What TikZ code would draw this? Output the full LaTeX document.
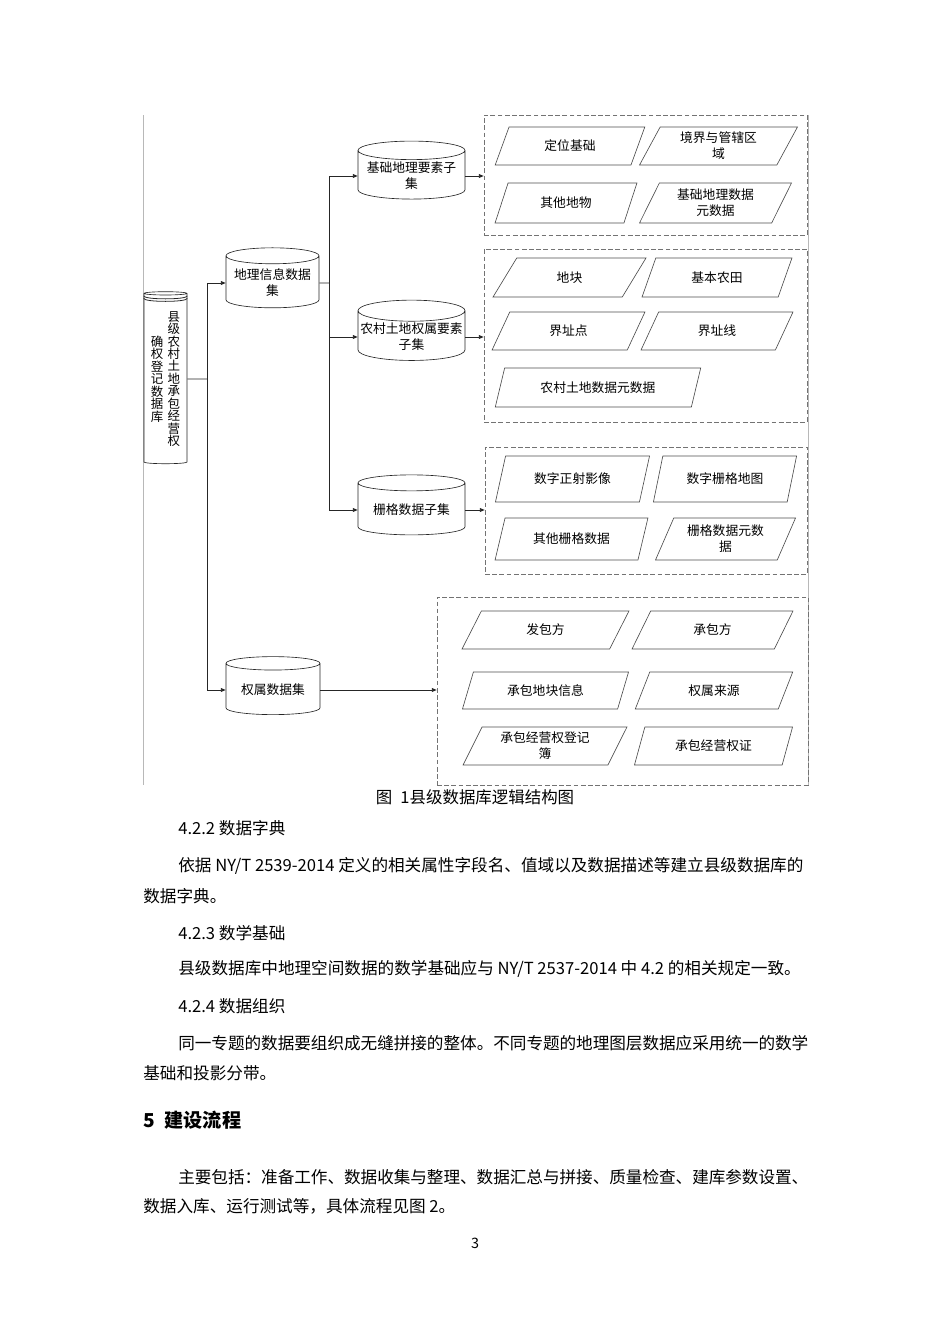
\documentclass[tikz,border=0pt]{standalone}
\usepackage{fontspec}
\setmainfont{Noto Sans CJK SC}
\XeTeXlinebreaklocale "zh"
\XeTeXlinebreakskip=0pt plus 1pt minus 0.2pt
\usetikzlibrary{shapes.geometric,arrows.meta}
\definecolor{framegray}{gray}{0.72}
\definecolor{dashgray}{gray}{0.45}
\definecolor{edgegray}{gray}{0.3}
\newcommand\pxu{0.626pt}
\newcommand\figfont{\fontsize{8}{10}\selectfont}
\newcommand\bodyfont{\fontsize{10.4}{18.8}\selectfont}
% one column of upright text, read from top to bottom
\newcommand\vcol[1]{\parbox{1em}{\centering\fontsize{7.8}{7.8}\selectfont
  \lineskiplimit=-\maxdimen #1}}

\begin{document}
\begin{tikzpicture}[x=0.626pt, y=-0.626pt, >={Triangle[length=3pt,width=2.4pt]},
 dataset/.style 2 args={cylinder, shape border rotate=90, aspect=0.2, draw=black!85,
   minimum width=#1*\pxu, minimum height=#2*\pxu, inner sep=1pt, align=center, font=\figfont},
 pgram/.style 2 args={trapezium, trapezium left angle=64, trapezium right angle=116,
   trapezium stretches=true, draw=edgegray, minimum width=#1*\pxu, minimum height=#2*\pxu,
   inner sep=0pt, align=center, font=\figfont},
 setbox/.style 2 args={draw=dashgray, dash pattern=on 3pt off 1.5pt,
   minimum width=#1*\pxu, minimum height=#2*\pxu, inner sep=0pt},
 link/.style={draw=black!85, line width=0.5pt},
 arrow/.style={link, ->},
 body/.style={anchor=west, inner sep=0pt, font=\bodyfont},
 justline/.style={body, text width=394.4pt, align=justify}]
\useasboundingbox (0,0) rectangle (950,1344);

% frame of the figure
\draw[framegray] (143,115) -- (143,785);
\draw[framegray] (808,115) -- (808,785);

% data sets
\node[dataset={43}{172}, aspect=0.1] (root) at (165.5,379)
 {\vcol{确\\权\\登\\记\\数\\据\\库}\hspace{2.6pt}\vcol{县\\级\\农\\村\\土\\地\\承\\包\\经\\营\\权}};
\foreach \d in {2.5,5}
 \draw[link] ([yshift=-\d*\pxu]root.before top) .. controls +(0,4) and +(0,4) .. ([yshift=-\d*\pxu]root.after top);
\node[dataset={93}{60}] (geo) at (272.5,283) {地理信息数据\\集};
\node[dataset={94}{58}] (right) at (273,690) {权属数据集};
\node[dataset={107}{58}] (basic) at (411.5,176) {基础地理要素子\\集};
\node[dataset={107}{60}] (rural) at (411.5,337) {农村土地权属要素\\子集};
\node[dataset={107}{60}] (raster) at (411.5,510) {栅格数据子集};

% groups of layers
\node[setbox={323}{120}] (box1) at (645.5,175) {};
\node[setbox={323}{173}] (box2) at (645.5,335.5) {};
\node[setbox={322}{127}] (box3) at (646,510.5) {};
\node[setbox={371}{188}] (box4) at (622.5,691) {};

\node[pgram={150}{38}] (pos) at (570,146) {定位基础};
\node[pgram={159}{38}] (bound) at (718.5,146) {境界与管辖区\\域};
\node[pgram={142}{40}] (other) at (566,203) {其他地物};
\node[pgram={153}{40}] (bmeta) at (715.5,203) {基础地理数据\\元数据};

\node[pgram={153}{39}] (parcel) at (569.5,277.5) {地块};
\node[pgram={150}{39}] (farm) at (717,277.5) {基本农田};
\node[pgram={153}{38}] (bpoint) at (568.5,331) {界址点};
\node[pgram={152}{38}] (bline) at (717,331) {界址线};
\node[pgram={206}{39}] (rmeta) at (598,387.5) {农村土地数据元数据};

\node[pgram={155}{46}] (dom) at (572.5,479) {数字正射影像};
\node[pgram={144}{46}] (drg) at (725,479) {数字栅格地图};
\node[pgram={153}{42}] (orast) at (571.5,539) {其他栅格数据};
\node[pgram={141}{42}] (gmeta) at (725.5,539) {栅格数据元数\\据};

\node[pgram={167}{38}] (issuer) at (545.5,630) {发包方};
\node[pgram={161}{38}] (holder) at (712.5,630) {承包方};
\node[pgram={167}{37}] (cland) at (545.5,690.5) {承包地块信息};
\node[pgram={158}{37}] (source) at (714,690.5) {权属来源};
\node[pgram={164}{38}] (book) at (545,746) {承包经营权登记\\簿};
\node[pgram={159}{38}] (cert) at (713.5,746) {承包经营权证};

% connectors
\coordinate (j1) at (207,379);
\coordinate (j2) at (329,283);
\draw[link] (root.east) -- (j1);
\draw[arrow] (j1) |- (geo.west);
\draw[arrow] (j1) |- (right.west);
\draw[link] (geo.east) -- (j2);
\draw[arrow] (j2) |- (basic.west);
\draw[arrow] (j2) |- (rural.west);
\draw[arrow] (j2) |- (raster.west);
\draw[arrow] (basic.east) -- (basic.east -| box1.west);
\draw[arrow] (rural.east) -- (rural.east -| box2.west);
\draw[arrow] (raster.east) -- (raster.east -| box3.west);
\draw[arrow] (right.east) -- (right.east -| box4.west);

\node[font=\fontsize{10.3}{12}\selectfont] (cap) at (475,797) {图\hspace{0.5em}1县级数据库逻辑结构图};

% text of the page
\node[body] (h422) at (178,828) {4.2.2 数据字典};
\node[justline] (p1a) at (178,866) {\noindent\parfillskip=0pt\relax 依据 NY/T 2539-2014 定义的相关属性字段名、值域以及数据描述等建立县级数据库的};
\node[body] (p1b) at (143,896) {数据字典。};
\node[body] (h423) at (178,933) {4.2.3 数学基础};
\node[body] (p2) at (178,969) {县级数据库中地理空间数据的数学基础应与 NY/T 2537-2014 中 4.2 的相关规定一致。};
\node[body] (h424) at (178,1006) {4.2.4 数据组织};
\node[justline] (p3a) at (178,1043) {\noindent\parfillskip=0pt\relax 同一专题的数据要组织成无缝拼接的整体。不同专题的地理图层数据应采用统一的数学};
\node[body] (p3b) at (143,1073) {基础和投影分带。};
\node[body, font=\fontsize{12}{14}\selectfont\bfseries] (h5) at (143,1120) {5\hspace{0.5em}建设流程};
\node[justline] (p4a) at (178,1177) {\noindent\parfillskip=0pt\relax 主要包括：准备工作、数据收集与整理、数据汇总与拼接、质量检查、建库参数设置、};
\node[body] (p4b) at (143,1206) {数据入库、运行测试等，具体流程见图 2。};
\node[font=\fontsize{9}{10}\selectfont] (pg) at (475,1243) {3};
\end{tikzpicture}
\end{document}
